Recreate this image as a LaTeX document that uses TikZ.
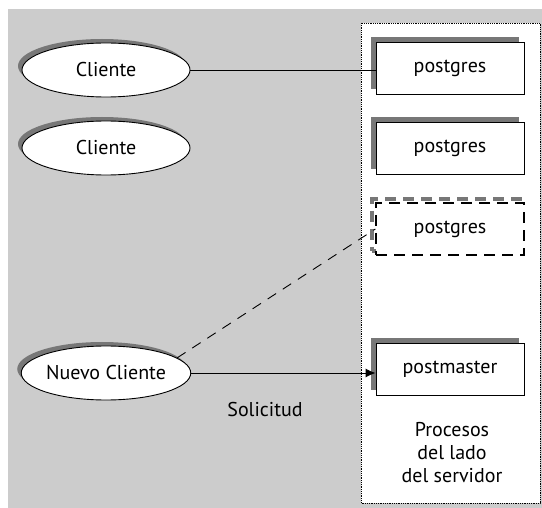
\documentclass[tikz,border=0pt]{standalone}
\usepackage{fontspec}
\setmainfont{PT Sans}
\usetikzlibrary{arrows.meta,shapes.geometric,shadows}
\definecolor{PanelGray}{HTML}{CCCCCC}
\definecolor{ShadowGray}{HTML}{777777}

\begin{document}
\begin{tikzpicture}[x=1pt, y=-1pt, line width=0.9pt,
  font=\fontsize{20}{23}\selectfont,
  client/.style={draw, ellipse, fill=white, minimum width=168pt, minimum height=54pt, inner sep=0pt,
    general shadow={fill=ShadowGray, shadow xshift=-4pt, shadow yshift=4pt}},
  proc/.style={draw, fill=white, minimum width=148pt, minimum height=52pt, inner sep=0pt,
    general shadow={fill=ShadowGray, shadow xshift=-5pt, shadow yshift=5pt}},
  newproc/.style={draw, line width=1.3pt, dash pattern=on 11pt off 7pt, fill=white, minimum width=148pt, minimum height=52pt, inner sep=0pt,
    general shadow={draw=ShadowGray, line width=4pt, dash pattern=on 11pt off 7pt, shadow xshift=-4pt, shadow yshift=4pt}}
]
\useasboundingbox (0,0) rectangle (542,508);
\fill[PanelGray] (8,9) rectangle (542,508);
\draw[densely dotted, line width=0.8pt, fill=white] (361,23) rectangle (540,503);

\node[client] (c1) at (106,70) {Cliente};
\node[client] (c2) at (106,148) {Cliente};
\node[client] (nc) at (106,373) {Nuevo Cliente};

\node[proc] (p1) at (450,68) {postgres};
\node[proc] (p2) at (450,148) {postgres};
\node[newproc] (p3) at (450,229) {postgres};
\node[proc] (pm) at (450,369) {postmaster};

\node (sol) at (265,410) {Solicitud};
\node[align=center] (srv) at (452,453) {Procesos\\del lado\\del servidor};

\draw (c1.east) -- (c1.east -| p1.west);
\draw[dash pattern=on 10pt off 8pt] (nc.12) -- (p3.west);
\draw[-{Latex[length=10pt,width=9pt]}] (nc.east) -- (nc.east -| pm.west);
\end{tikzpicture}
\end{document}
